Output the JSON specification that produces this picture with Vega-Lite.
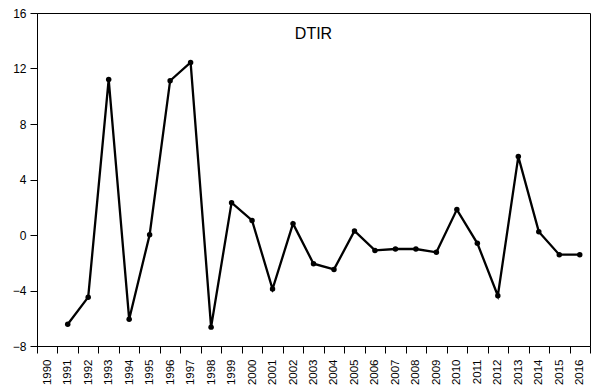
{
  "$schema": "https://vega.github.io/schema/vega-lite/v6.json",
  "autosize": "none",
  "width": 553,
  "height": 333,
  "padding": {"left": 37, "top": 13, "right": 3, "bottom": 41},
  "background": "white",
  "config": {
    "view": {"stroke": "black", "strokeWidth": 1},
    "font": "Liberation Sans"
  },
  "title": {
    "text": "DTIR",
    "orient": "top",
    "anchor": "middle",
    "baseline": "top",
    "offset": -35,
    "fontSize": 16,
    "fontWeight": "normal",
    "font": "Liberation Sans",
    "color": "black"
  },
  "data": {
    "values": [
      {"year": "1990", "value": null},
      {"year": "1991", "value": -6.43},
      {"year": "1992", "value": -4.48},
      {"year": "1993", "value": 11.21},
      {"year": "1994", "value": -6.07},
      {"year": "1995", "value": 0.02},
      {"year": "1996", "value": 11.12},
      {"year": "1997", "value": 12.44},
      {"year": "1998", "value": -6.64},
      {"year": "1999", "value": 2.33},
      {"year": "2000", "value": 1.05},
      {"year": "2001", "value": -3.9},
      {"year": "2002", "value": 0.82},
      {"year": "2003", "value": -2.07},
      {"year": "2004", "value": -2.48},
      {"year": "2005", "value": 0.29},
      {"year": "2006", "value": -1.11},
      {"year": "2007", "value": -1.01},
      {"year": "2008", "value": -1.01},
      {"year": "2009", "value": -1.25},
      {"year": "2010", "value": 1.83},
      {"year": "2011", "value": -0.6},
      {"year": "2012", "value": -4.38},
      {"year": "2013", "value": 5.65},
      {"year": "2014", "value": 0.24},
      {"year": "2015", "value": -1.42},
      {"year": "2016", "value": -1.42}
    ]
  },
  "encoding": {
    "x": {
      "field": "year",
      "type": "ordinal",
      "scale": {"type": "band", "paddingInner": 0, "paddingOuter": 0},
      "axis": {
        "title": null,
        "tickBand": "extent",
        "labelAngle": -90,
        "labelAlign": "right",
        "labelBaseline": "middle",
        "labelPadding": 6,
        "tickSize": 7,
        "tickColor": "black",
        "labelColor": "black",
        "labelFontSize": 11.5,
        "labelFont": "Liberation Sans",
        "domain": true,
        "domainColor": "black",
        "grid": false
      }
    },
    "y": {
      "field": "value",
      "type": "quantitative",
      "scale": {"domain": [-8, 16], "nice": false, "zero": false},
      "axis": {
        "title": null,
        "values": [-8, -4, 0, 4, 8, 12, 16],
        "tickSize": 7,
        "tickColor": "black",
        "labelColor": "black",
        "labelFontSize": 12,
        "labelFont": "Liberation Sans",
        "labelPadding": 4,
        "domainColor": "black",
        "grid": false
      }
    }
  },
  "layer": [
    {
      "mark": {"type": "line", "color": "black", "strokeWidth": 2.3}
    },
    {
      "mark": {"type": "point", "filled": true, "color": "black", "size": 30, "opacity": 1}
    }
  ]
}
